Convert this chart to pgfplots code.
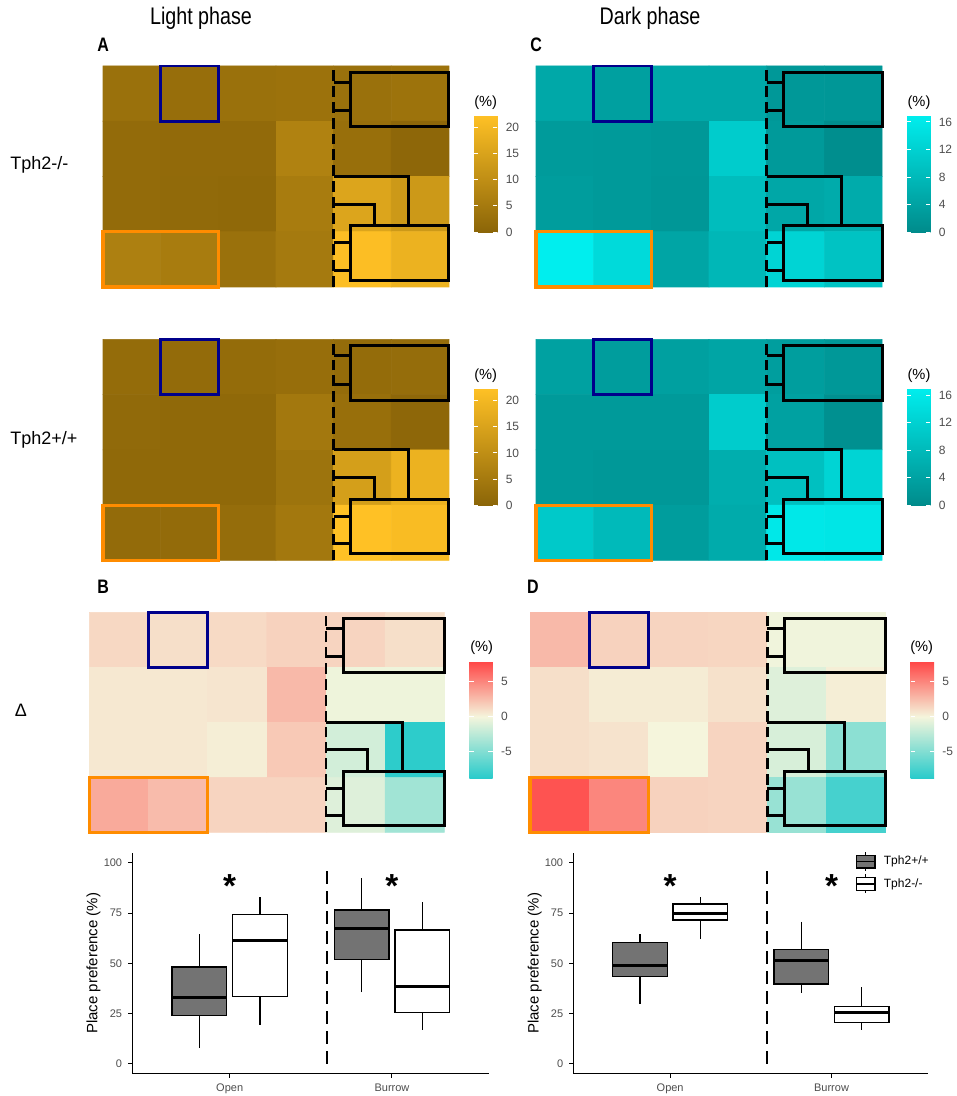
\documentclass[border=0pt]{standalone}
\usepackage{pgfplots}
\pgfplotsset{compat=1.18}
\usepgfplotslibrary{statistics}
\usepackage{fontspec}
\setmainfont{Liberation Sans}
\newfontfamily\narrow[FakeStretch=0.82]{Liberation Sans}
\newcommand{\fs}[1]{\fontsize{#1}{#1}\selectfont}

\definecolor{labgray}{RGB}{77,77,77}
\definecolor{boxgray}{RGB}{115,115,115}
\definecolor{rectblue}{RGB}{0,0,139}
\definecolor{rectorange}{RGB}{255,140,0}

\tikzset{
  bgray/.style={draw=black, fill=boxgray, line width=0.8pt},
  bwhite/.style={draw=black, fill=white, line width=0.8pt},
}

\pgfplotsset{
  colormap={gold}{rgb255=(139,101,8) rgb255=(255,193,37)},
  colormap={teal}{rgb255=(0,139,139) rgb255=(0,238,238)},
  colormap={delta}{rgb255(0pt)=(40,203,203) rgb255(88pt)=(245,245,220) rgb255(167pt)=(255,70,70)},
  heat/.style={scale only axis, anchor=north west, width=207.6pt, height=132.6pt,
    xmin=0, xmax=6, ymin=0, ymax=4, hide axis, clip=false, enlargelimits=false},
  % the colorbar already carries a default xshift of 0.3cm
  cbar/.style={colorbar, colorbar style={at={(parent axis.north east)}, anchor=north west,
    xshift=6.5pt, yshift=-29.4pt, scale only axis, width=14pt, height=70.2pt,
    axis line style={draw=none}, major tick length=2.6pt, tick align=inside,
    ytick pos=both, yticklabel pos=right,
    ytick style={draw=white, line width=0.5pt},
    yticklabel style={font=\fs{7.2}, text=labgray, xshift=1.5pt},
    /pgf/number format/assume math mode=true, #1}},
  box/.style={scale only axis, anchor=north west, height=132pt,
    xmin=0.4, xmax=2.6, ymin=-4.7, ymax=104.7, axis lines*=left,
    axis line style={line width=0.6pt}, xtick={1,2}, xticklabels={Open,Burrow},
    ytick={0,25,50,75,100}, tick align=outside, major tick length=2.6pt,
    tick style={line width=0.6pt, black}, ticklabel style={font=\fs{6.6}, text=labgray},
    ylabel={Place preference (\%)},
    every axis y label/.style={at={(axis description cs:-0.109,0.5)}, rotate=90, anchor=center, font=\fs{9}},
    /pgf/number format/assume math mode=true,
    boxplot/draw direction=y, boxplot/box extend=0.337, boxplot/whisker extend=0,
    boxplot/every median/.style={line width=1.8pt}, clip=false},
}

\newcommand{\heatdecor}{%
  \draw[line width=1.7pt, dash pattern=on 6.5pt off 3pt] (axis cs:4,0) -- (axis cs:4,4);
  \draw[rectblue, line width=1.7pt] (axis cs:1,3) rectangle (axis cs:2,4);
  \draw[rectorange, line width=1.9pt] (axis cs:0,0) rectangle (axis cs:2,1);
  \draw[line width=1.8pt] (axis cs:4.3,2.9) rectangle (axis cs:6,3.89);
  \draw[line width=1.8pt] (axis cs:4,3.70) -- (axis cs:4.3,3.70) (axis cs:4,3.19) -- (axis cs:4.3,3.19);
  \draw[line width=1.8pt] (axis cs:4.3,0.12) rectangle (axis cs:6,1.11);
  \draw[line width=1.8pt] (axis cs:4,0.80) -- (axis cs:4.3,0.80) (axis cs:4,0.30) -- (axis cs:4.3,0.30);
  \draw[line width=1.8pt] (axis cs:4,1.5) -- (axis cs:4.7,1.5) -- (axis cs:4.7,1.11);
  \draw[line width=1.8pt] (axis cs:4,2.0) -- (axis cs:5.3,2.0) -- (axis cs:5.3,1.11);
}

\begin{document}
\begin{tikzpicture}
\path[use as bounding box] (0,0) rectangle (573.6pt,-657.6pt);

% titles and labels
\node[font=\narrow\fs{14.4}] at (120.6pt,-10.8pt) {Light phase};
\node[font=\narrow\fs{14.4}] at (390pt,-10.8pt) {Dark phase};
\node[font=\narrow\bfseries\fs{11.7}, anchor=west, inner sep=0pt] at (58.2pt,-27pt) {A};
\node[font=\narrow\bfseries\fs{11.7}, anchor=west, inner sep=0pt] at (318pt,-27pt) {C};
\node[font=\narrow\bfseries\fs{11.7}, anchor=west, inner sep=0pt] at (58.2pt,-352.2pt) {B};
\node[font=\narrow\bfseries\fs{11.7}, anchor=west, inner sep=0pt] at (316pt,-352.2pt) {D};
\node[font=\fs{10.8}, anchor=west, inner sep=0pt] at (6pt,-99pt) {Tph2-/-};
\node[font=\fs{10.8}, anchor=west, inner sep=0pt] at (6pt,-264pt) {Tph2+/+};
\node[font=\fs{10.8}] at (12.6pt,-426pt) {Δ};
\foreach \x/\y in {291.4/-61.6, 291.4/-225.6, 551.4/-61.6, 551.4/-225.6, 289/-388.8, 553/-388.4}
  \node[font=\fs{8.8}] at (\x pt,\y pt) {(\%)};

% A: Tph2-/- light
\begin{axis}[heat, at={(61.8pt,-39.6pt)}, colormap name=gold, point meta min=0, point meta max=22.3,
  cbar={ytick={0,5,10,15,20}}]
\addplot[matrix plot*, mesh/cols=6, point meta=explicit] coordinates {
(0.5,3.5)[2.8] (1.5,3.5)[2.2] (2.5,3.5)[2.8] (3.5,3.5)[3.2] (4.5,3.5)[2.8] (5.5,3.5)[3.4]
(0.5,2.5)[1.5] (1.5,2.5)[1.3] (2.5,2.5)[1.3] (3.5,2.5)[7.0] (4.5,2.5)[2.5] (5.5,2.5)[0.6]
(0.5,1.5)[1.5] (1.5,1.5)[1.2] (2.5,1.5)[0.9] (3.5,1.5)[5.5] (4.5,1.5)[15.5] (5.5,1.5)[12.5]
(0.5,0.5)[6.5] (1.5,0.5)[5.5] (2.5,0.5)[2.8] (3.5,0.5)[5.0] (4.5,0.5)[21.5] (5.5,0.5)[18.5]
};
\heatdecor
\end{axis}

% A: Tph2+/+ light
\begin{axis}[heat, at={(61.8pt,-203.6pt)}, colormap name=gold, point meta min=0, point meta max=22.3,
  cbar={ytick={0,5,10,15,20}}]
\addplot[matrix plot*, mesh/cols=6, point meta=explicit] coordinates {
(0.5,3.5)[1.8] (1.5,3.5)[1.5] (2.5,3.5)[1.8] (3.5,3.5)[2.2] (4.5,3.5)[1.8] (5.5,3.5)[2.0]
(0.5,2.5)[1.2] (1.5,2.5)[1.0] (2.5,2.5)[1.0] (3.5,2.5)[4.5] (4.5,2.5)[2.5] (5.5,2.5)[0.5]
(0.5,1.5)[1.0] (1.5,1.5)[1.0] (2.5,1.5)[1.0] (3.5,1.5)[3.5] (4.5,1.5)[14.0] (5.5,1.5)[18.5]
(0.5,0.5)[1.5] (1.5,0.5)[1.5] (2.5,0.5)[2.0] (3.5,0.5)[4.5] (4.5,0.5)[22.3] (5.5,0.5)[21.0]
};
\heatdecor
\end{axis}

% C: Tph2-/- dark
\begin{axis}[heat, at={(321.6pt,-39.6pt)}, colormap name=teal, point meta min=0, point meta max=17,
  cbar={ytick={0,4,8,12,16}}]
\addplot[matrix plot*, mesh/cols=6, point meta=explicit] coordinates {
(0.5,3.5)[5.0] (1.5,3.5)[3.6] (2.5,3.5)[5.0] (3.5,3.5)[5.0] (4.5,3.5)[2.3] (5.5,3.5)[2.0]
(0.5,2.5)[2.8] (1.5,2.5)[2.6] (2.5,2.5)[2.3] (3.5,2.5)[11.0] (4.5,2.5)[2.6] (5.5,2.5)[0.5]
(0.5,1.5)[3.0] (1.5,1.5)[2.6] (2.5,1.5)[2.0] (3.5,1.5)[8.5] (4.5,1.5)[4.8] (5.5,1.5)[5.5]
(0.5,0.5)[17.0] (1.5,0.5)[13.5] (2.5,0.5)[4.5] (3.5,0.5)[7.5] (4.5,0.5)[12.5] (5.5,0.5)[9.5]
};
\heatdecor
\end{axis}

% C: Tph2+/+ dark
\begin{axis}[heat, at={(321.6pt,-203.6pt)}, colormap name=teal, point meta min=0, point meta max=17,
  cbar={ytick={0,4,8,12,16}}]
\addplot[matrix plot*, mesh/cols=6, point meta=explicit] coordinates {
(0.5,3.5)[3.8] (1.5,3.5)[3.0] (2.5,3.5)[3.5] (3.5,3.5)[4.5] (4.5,3.5)[3.2] (5.5,3.5)[2.2]
(0.5,2.5)[2.5] (1.5,2.5)[2.5] (2.5,2.5)[2.6] (3.5,2.5)[11.0] (4.5,2.5)[3.8] (5.5,2.5)[0.8]
(0.5,1.5)[2.5] (1.5,1.5)[2.2] (2.5,1.5)[2.2] (3.5,1.5)[6.0] (4.5,1.5)[9.0] (5.5,1.5)[12.5]
(0.5,0.5)[10.5] (1.5,0.5)[8.0] (2.5,0.5)[3.0] (3.5,0.5)[5.5] (4.5,0.5)[15.8] (5.5,0.5)[15.5]
};
\heatdecor
\end{axis}

% B: difference light
\begin{axis}[heat, at={(53.6pt,-367.4pt)}, width=213pt, height=132pt, colormap name=delta,
  point meta min=-8.8, point meta max=7.9, cbar={ytick={-5,0,5}}]
\addplot[matrix plot*, mesh/cols=6, point meta=explicit] coordinates {
(0.5,3.5)[1.3] (1.5,3.5)[1.0] (2.5,3.5)[1.2] (3.5,3.5)[1.6] (4.5,3.5)[1.5] (5.5,3.5)[1.0]
(0.5,2.5)[0.6] (1.5,2.5)[0.6] (2.5,2.5)[0.7] (3.5,2.5)[2.7] (4.5,2.5)[-0.3] (5.5,2.5)[-0.3]
(0.5,1.5)[0.6] (1.5,1.5)[0.6] (2.5,1.5)[0.3] (3.5,1.5)[2.0] (4.5,1.5)[-1.5] (5.5,1.5)[-8.6]
(0.5,0.5)[3.4] (1.5,0.5)[2.6] (2.5,0.5)[1.5] (3.5,0.5)[1.5] (4.5,0.5)[-1.0] (5.5,0.5)[-3.6]
};
\heatdecor
\end{axis}

% D: difference dark
\begin{axis}[heat, at={(318pt,-367.4pt)}, width=213.4pt, height=132pt, colormap name=delta,
  point meta min=-8.8, point meta max=7.9, cbar={ytick={-5,0,5}}]
\addplot[matrix plot*, mesh/cols=6, point meta=explicit] coordinates {
(0.5,3.5)[2.7] (1.5,3.5)[1.6] (2.5,3.5)[1.5] (3.5,3.5)[1.4] (4.5,3.5)[-0.2] (5.5,3.5)[-0.2]
(0.5,2.5)[1.0] (1.5,2.5)[0.4] (2.5,2.5)[0.4] (3.5,2.5)[0.9] (4.5,2.5)[-1.0] (5.5,2.5)[0.3]
(0.5,1.5)[1.0] (1.5,1.5)[0.8] (2.5,1.5)[0.0] (3.5,1.5)[1.5] (4.5,1.5)[-1.3] (5.5,1.5)[-4.5]
(0.5,0.5)[7.3] (1.5,0.5)[5.0] (2.5,0.5)[1.6] (3.5,0.5)[1.5] (4.5,0.5)[-4.0] (5.5,0.5)[-7.5]
};
\heatdecor
\end{axis}

% box plot, light phase
\begin{axis}[box, at={(79.4pt,-512pt)}, width=214.2pt]
\addplot[bgray, boxplot prepared={draw position=0.813, lower whisker=7.8, lower quartile=23.9,
  median=32.8, upper quartile=48.2, upper whisker=64.5}] coordinates {};
\addplot[bwhite, boxplot prepared={draw position=1.187, lower whisker=19.5, lower quartile=33.6,
  median=61.6, upper quartile=74.2, upper whisker=83.2}] coordinates {};
\addplot[bgray, boxplot prepared={draw position=1.813, lower whisker=35.6, lower quartile=52.0,
  median=67.2, upper quartile=76.5, upper whisker=92.3}] coordinates {};
\addplot[bwhite, boxplot prepared={draw position=2.187, lower whisker=16.9, lower quartile=25.7,
  median=38.4, upper quartile=66.6, upper whisker=80.5}] coordinates {};
\addplot[black, line width=1.7pt, dash pattern=on 8pt off 4pt] coordinates {(1.6,0) (1.6,99)};
\node[font=\bfseries\fs{20}, anchor=base] at (axis cs:1,82.5) {*};
\node[font=\bfseries\fs{20}, anchor=base] at (axis cs:2,82.5) {*};
\end{axis}

% box plot, dark phase
\begin{axis}[box, at={(344pt,-512pt)}, width=213pt,
  legend style={at={(axis description cs:0.795,1.01)}, anchor=north west, draw=none, fill=none,
    font=\fs{7.2}, inner sep=0pt, row sep=1.2pt, /tikz/column sep=4pt, nodes={inner sep=1pt, text=black}},
  legend cell align=left]
\addlegendimage{legend image code/.code={
  \draw[bgray] (0pt,-3.8pt) rectangle (11pt,3.8pt);
  \draw[line width=0.8pt] (0pt,0pt) -- (11pt,0pt) (5.5pt,3.8pt) -- (5.5pt,5.7pt) (5.5pt,-3.8pt) -- (5.5pt,-5.7pt);}}
\addlegendentry{Tph2+/+}
\addlegendimage{legend image code/.code={
  \draw[bwhite] (0pt,-3.8pt) rectangle (11pt,3.8pt);
  \draw[line width=0.8pt] (0pt,0pt) -- (11pt,0pt) (5.5pt,3.8pt) -- (5.5pt,5.7pt) (5.5pt,-3.8pt) -- (5.5pt,-5.7pt);}}
\addlegendentry{Tph2-/-}
\addplot[bgray, forget plot, boxplot prepared={draw position=0.813, lower whisker=29.7, lower quartile=43.6,
  median=48.9, upper quartile=60.5, upper whisker=64.5}] coordinates {};
\addplot[bwhite, forget plot, boxplot prepared={draw position=1.187, lower whisker=62.0, lower quartile=71.6,
  median=74.9, upper quartile=79.5, upper whisker=83.2}] coordinates {};
\addplot[bgray, forget plot, boxplot prepared={draw position=1.813, lower whisker=35.4, lower quartile=39.8,
  median=51.2, upper quartile=57.0, upper whisker=70.7}] coordinates {};
\addplot[bwhite, forget plot, boxplot prepared={draw position=2.187, lower whisker=16.9, lower quartile=20.7,
  median=25.7, upper quartile=28.5, upper whisker=38.4}] coordinates {};
\addplot[black, line width=1.7pt, dash pattern=on 8pt off 4pt, forget plot] coordinates {(1.6,0) (1.6,99)};
\node[font=\bfseries\fs{20}, anchor=base] at (axis cs:1,82.5) {*};
\node[font=\bfseries\fs{20}, anchor=base] at (axis cs:2,82.5) {*};
\end{axis}
\end{tikzpicture}
\end{document}
